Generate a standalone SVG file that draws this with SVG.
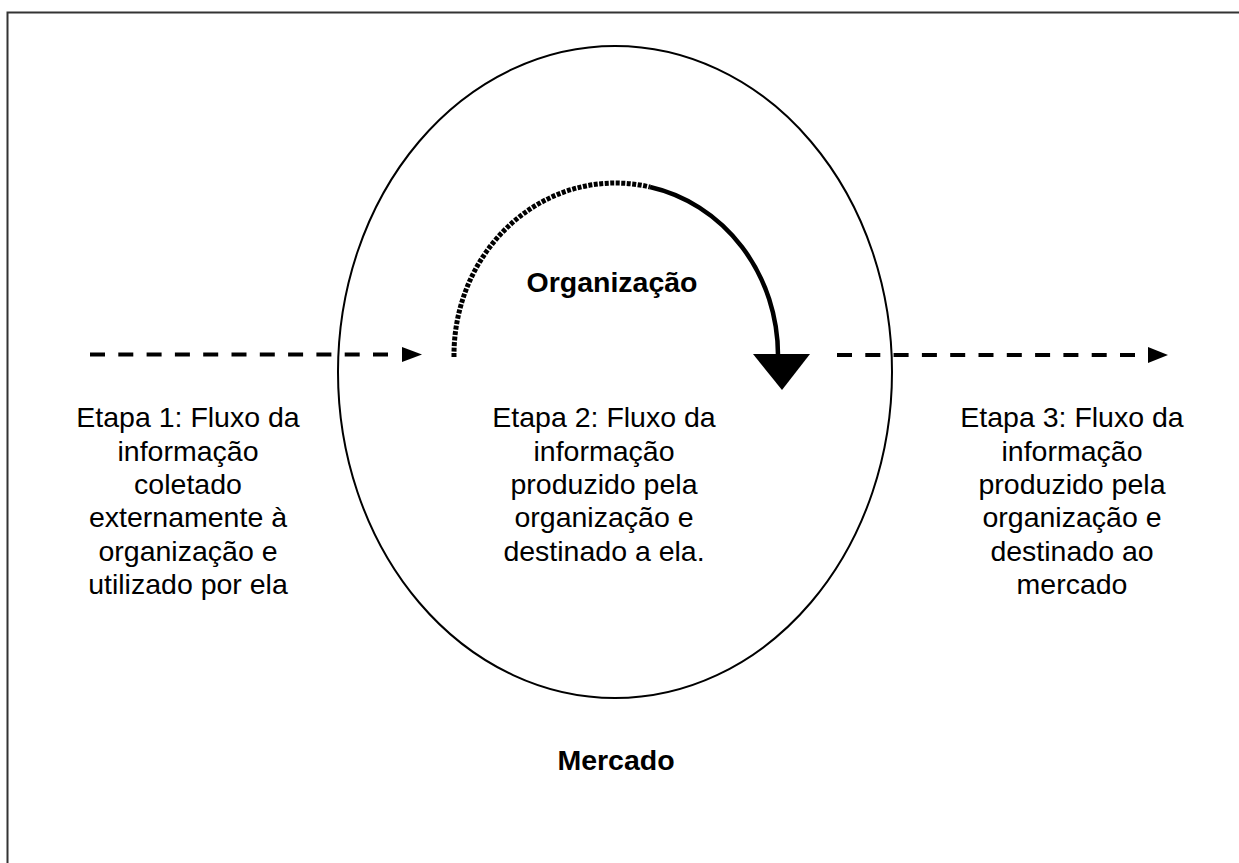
<svg xmlns="http://www.w3.org/2000/svg" width="1239" height="863" viewBox="0 0 1239 863">
<style>
.t{font-family:"Liberation Sans",Arial,sans-serif;font-size:28.5px;fill:#000;text-anchor:middle}
.b{font-weight:bold}
.dash{fill:none;stroke:#000;stroke-width:4;stroke-dasharray:15 13.3}
</style>
<rect x="0" y="0" width="1239" height="863" fill="#fff"/>
<rect x="7.5" y="12.5" width="1300" height="900" fill="none" stroke="#333" stroke-width="2"/>
<g id="mercado">
<ellipse cx="615" cy="372" rx="277" ry="326" fill="none" stroke="#000" stroke-width="2"/>
<text class="t b" x="616" y="770">Mercado</text>
</g>
<g id="organizacao">
<text class="t b" x="612" y="292">Organização</text>
</g>
<g id="etapa1">
<text class="t" x="188" y="427">Etapa 1: Fluxo da</text>
<text class="t" x="188" y="461">informação</text>
<text class="t" x="188" y="494">coletado</text>
<text class="t" x="188" y="527">externamente à</text>
<text class="t" x="188" y="561">organização e</text>
<text class="t" x="188" y="594">utilizado por ela</text>
</g>
<g id="etapa2">
<text class="t" x="604" y="427">Etapa 2: Fluxo da</text>
<text class="t" x="604" y="461">informação</text>
<text class="t" x="604" y="494">produzido pela</text>
<text class="t" x="604" y="527">organização e</text>
<text class="t" x="604" y="561">destinado a ela.</text>
</g>
<g id="etapa3">
<text class="t" x="1072" y="427">Etapa 3: Fluxo da</text>
<text class="t" x="1072" y="461">informação</text>
<text class="t" x="1072" y="494">produzido pela</text>
<text class="t" x="1072" y="527">organização e</text>
<text class="t" x="1072" y="561">destinado ao</text>
<text class="t" x="1072" y="594">mercado</text>
</g>
<g id="connectors">
<line class="dash" x1="90" y1="354.5" x2="388" y2="354.5"/>
<polygon points="402,347 422,354.5 402,362" fill="#000"/>
<line class="dash" x1="837" y1="355" x2="1136" y2="355"/>
<polygon points="1148,347 1168,355 1148,363" fill="#000"/>
<path d="M454 357 A161.5 172 0 0 1 650 187" fill="none" stroke="#000" stroke-width="5" stroke-dasharray="4 1.5"/>
<path d="M650 187 A161.5 172 0 0 1 778 355" fill="none" stroke="#000" stroke-width="4.5"/>
<polygon points="753,354 810,354 782,390" fill="#000"/>
</g>
</svg>
